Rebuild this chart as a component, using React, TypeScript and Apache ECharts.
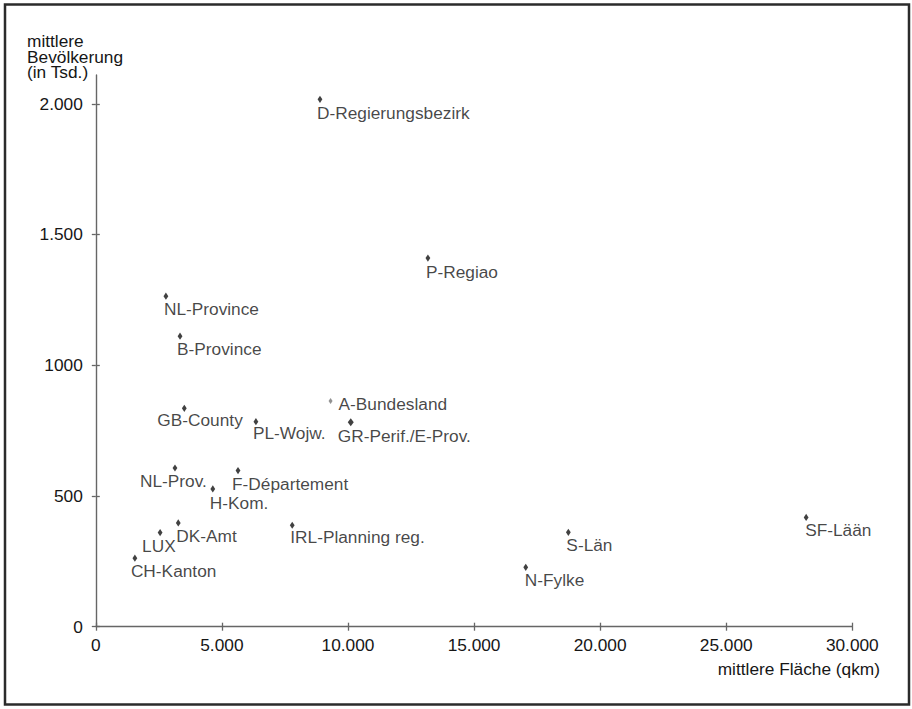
import React, { useEffect, useRef } from "react";
import * as echarts from "echarts";

const regionNames = [
  "D-Regierungsbezirk", "P-Regiao", "NL-Province", "B-Province", "GB-County",
  "PL-Wojw.", "A-Bundesland", "GR-Perif./E-Prov.", "NL-Prov.", "F-Département",
  "H-Kom.", "DK-Amt", "LUX", "CH-Kanton", "IRL-Planning reg.", "S-Län", "N-Fylke", "SF-Lään",
];
const meanArea = [8890, 13170, 2780, 3340, 3510, 6350, 9310, 10110, 3140, 5640, 4640, 3270, 2550, 1550, 7790, 18740, 17050, 28170];
const meanPopulation = [2017, 1410, 1264, 1111, 835, 784, 863, 782, 607, 597, 527, 397, 360, 262, 388, 361, 227, 418];

const xTickValues = [0, 5000, 10000, 15000, 20000, 25000, 30000];
const xTickLabels = ["0", "5.000", "10.000", "15.000", "20.000", "25.000", "30.000"];
const yTickValues = [0, 500, 1000, 1500, 2000];
const yTickLabels = ["0", "500", "1000", "1.500", "2.000"];

// label placement (styling): offset of label's left/middle from marker centre
const labelOffsets: [number, number][] = [
  [-3, 14], [-2, 14], [-2, 13], [-3, 13], [-27, 12],
  [-3, 11], [8, 3], [-13, 14], [-35, 13], [-6, 13.5],
  [-3, 14], [-2, 12.7], [-18, 13], [-4, 12.7], [-2, 11.5], [-2, 12.7], [-1, 12.7], [-1, 12.7],
];

const FONT = "'Liberation Sans', Arial, Helvetica, sans-serif";
const FS = 17.3;
const TXT = "#161616";
const AX = "#666";

export default function App() {
  const ref = useRef<HTMLDivElement>(null);
  useEffect(() => {
    const chart = echarts.init(ref.current!, null, { renderer: "svg" });
    const grid = { left: 95.8, right: 59.7, top: 75, bottom: 82.3 };
    const xFmt = (v: number) => {
      const i = xTickValues.indexOf(v);
      return i >= 0 ? xTickLabels[i] : "";
    };
    const yFmt = (v: number) => {
      const i = yTickValues.indexOf(v);
      return i >= 0 ? yTickLabels[i] : "";
    };
    const data = meanArea.map((a, i) => {
      const isA = regionNames[i] === "A-Bundesland";
      const isGR = regionNames[i] === "GR-Perif./E-Prov.";
      const size: [number, number] = isA ? [4, 6] : isGR ? [6, 8] : [4.8, 7.2];
      const [dx, dy] = labelOffsets[i];
      return {
        name: regionNames[i],
        value: [a, meanPopulation[i]],
        symbolSize: size,
        itemStyle: { color: isA ? "#777" : "#111" },
        label: {
          show: true,
          formatter: regionNames[i],
          position: [dx + size[0] / 2, dy + size[1] / 2],
          align: "left",
          verticalAlign: "middle",
          color: TXT,
          fontSize: FS,
          fontFamily: FONT,
        },
      };
    });
    const option: any = {
      animation: false,
      backgroundColor: "#fff",
      textStyle: { fontFamily: FONT },
      grid: [
        { ...grid },
        { ...grid },
      ],
      xAxis: [
        {
          type: "value",
          gridIndex: 0,
          min: 0,
          max: 30000,
          interval: 5000,
          splitLine: { show: false },
          axisLine: { show: true, lineStyle: { color: AX, width: 1.4 } },
          axisTick: { show: true, inside: false, length: 4, lineStyle: { color: AX, width: 1.3 } },
          axisLabel: { formatter: xFmt, color: TXT, fontSize: FS, fontFamily: FONT, margin: 10, showMaxLabel: true },
        },
        {
          type: "value",
          gridIndex: 1,
          min: 0,
          max: 30000,
          interval: 5000,
          splitLine: { show: false },
          axisLine: { show: false },
          axisTick: { show: true, inside: true, length: 4, lineStyle: { color: AX, width: 1.3 } },
          axisLabel: { show: false },
        },
      ],
      yAxis: [
        {
          type: "value",
          gridIndex: 0,
          min: 0,
          max: 2110,
          splitLine: { show: false },
          axisLine: { show: true, lineStyle: { color: AX, width: 1.4 } },
          axisTick: { show: true, inside: false, length: 4, customValues: yTickValues, lineStyle: { color: AX, width: 1.3 } },
          axisLabel: { formatter: yFmt, customValues: yTickValues, color: TXT, fontSize: FS, fontFamily: FONT, margin: 13 },
        },
        {
          type: "value",
          gridIndex: 1,
          min: 0,
          max: 2110,
          splitLine: { show: false },
          axisLine: { show: false },
          axisTick: { show: true, inside: true, length: 4, customValues: yTickValues, lineStyle: { color: AX, width: 1.3 } },
          axisLabel: { show: false, customValues: yTickValues },
        },
      ],
      graphic: [
        {
          type: "rect",
          shape: { x: 5, y: 4.5, width: 904, height: 700 },
          style: { fill: "none", stroke: "#2b2b2b", lineWidth: 2.5 },
          silent: true,
        },
        {
          type: "text",
          x: 27,
          y: 33.5,
          style: {
            text: "mittlere\nBevölkerung\n(in Tsd.)",
            fontSize: FS,
            fontFamily: FONT,
            fill: TXT,
            lineHeight: 15.5,
            align: "left",
            verticalAlign: "top",
          },
        },
        {
          type: "text",
          x: 880,
          y: 669,
          style: {
            text: "mittlere Fläche (qkm)",
            fontSize: FS,
            fontFamily: FONT,
            fill: TXT,
            align: "right",
            verticalAlign: "middle",
          },
        },
      ],
      series: [
        {
          type: "scatter",
          xAxisIndex: 0,
          yAxisIndex: 0,
          symbol: "diamond",
          data,
          labelLayout: { hideOverlap: false },
        },
      ],
    };
    chart.setOption(option);
    return () => chart.dispose();
  }, []);
  return (
    <div
      ref={ref}
      style={{ position: "absolute", left: 0, top: 0, width: 912, height: 709 }}
    />
  );
}
